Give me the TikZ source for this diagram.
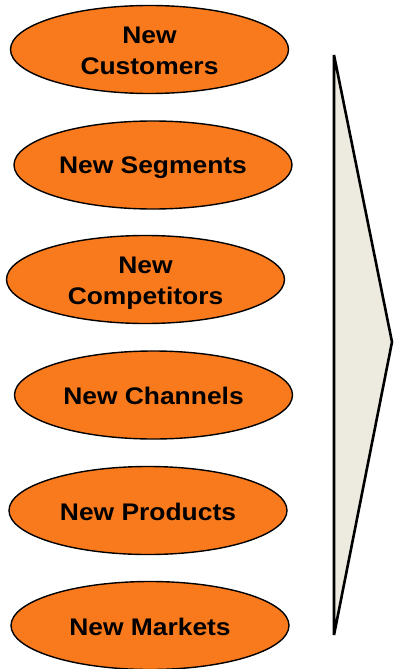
\documentclass[tikz,border=0pt]{standalone}
\usepackage{fontspec}
\setmainfont{Liberation Sans}[FakeStretch=1.10]
\usetikzlibrary{shapes.geometric}
\definecolor{bubble}{HTML}{F97A1C}
\definecolor{arrowfill}{HTML}{EDEADF}
\tikzset{
  bubble/.style={ellipse, draw=black, line width=1.4pt, fill=bubble,
    minimum width=278pt, minimum height=88pt, inner sep=0pt},
  caption/.style={anchor=north, inner sep=0pt, align=center,
    font=\fontsize{24}{31}\selectfont\bfseries},
  oneline/.style={caption, yshift=8pt},
  twoline/.style={caption, yshift=22.8pt},
  bigarrow/.style={draw=black, line width=2.6pt, fill=arrowfill, line join=miter}
}
\begin{document}
\begin{tikzpicture}[x=1pt, y=-1pt]
  \useasboundingbox (0,0) rectangle (394,669);
  % stacked ellipses on the left
  \node[bubble] (customers)   at (149.5,49.5)  {};
  \node[bubble] (segments)    at (153,165)     {};
  \node[bubble] (competitors) at (145.5,279.5) {};
  \node[bubble] (channels)    at (153.5,395)   {};
  \node[bubble] (products)    at (148,510.5)   {};
  \node[bubble] (markets)     at (150,625.5)   {};
  % their captions, hung from the cap line
  \node[twoline] (customers-text)   at (customers.center)   {New\\Customers};
  \node[oneline] (segments-text)    at (segments.center)    {New Segments};
  \node[twoline] (competitors-text) at (competitors.center) {New\\Competitors};
  \node[oneline] (channels-text)    at (channels.center)    {New Channels};
  \node[oneline] (products-text)    at (products.center)    {New Products};
  \node[oneline] (markets-text)     at (markets.center)     {New Markets};
  % tall triangular pointer on the right
  \coordinate (top) at (334,55);
  \coordinate (tip) at (392,342);
  \coordinate (bottom) at (334,635);
  \draw[bigarrow] (top) -- (tip) -- (bottom) -- cycle;
\end{tikzpicture}
\end{document}
